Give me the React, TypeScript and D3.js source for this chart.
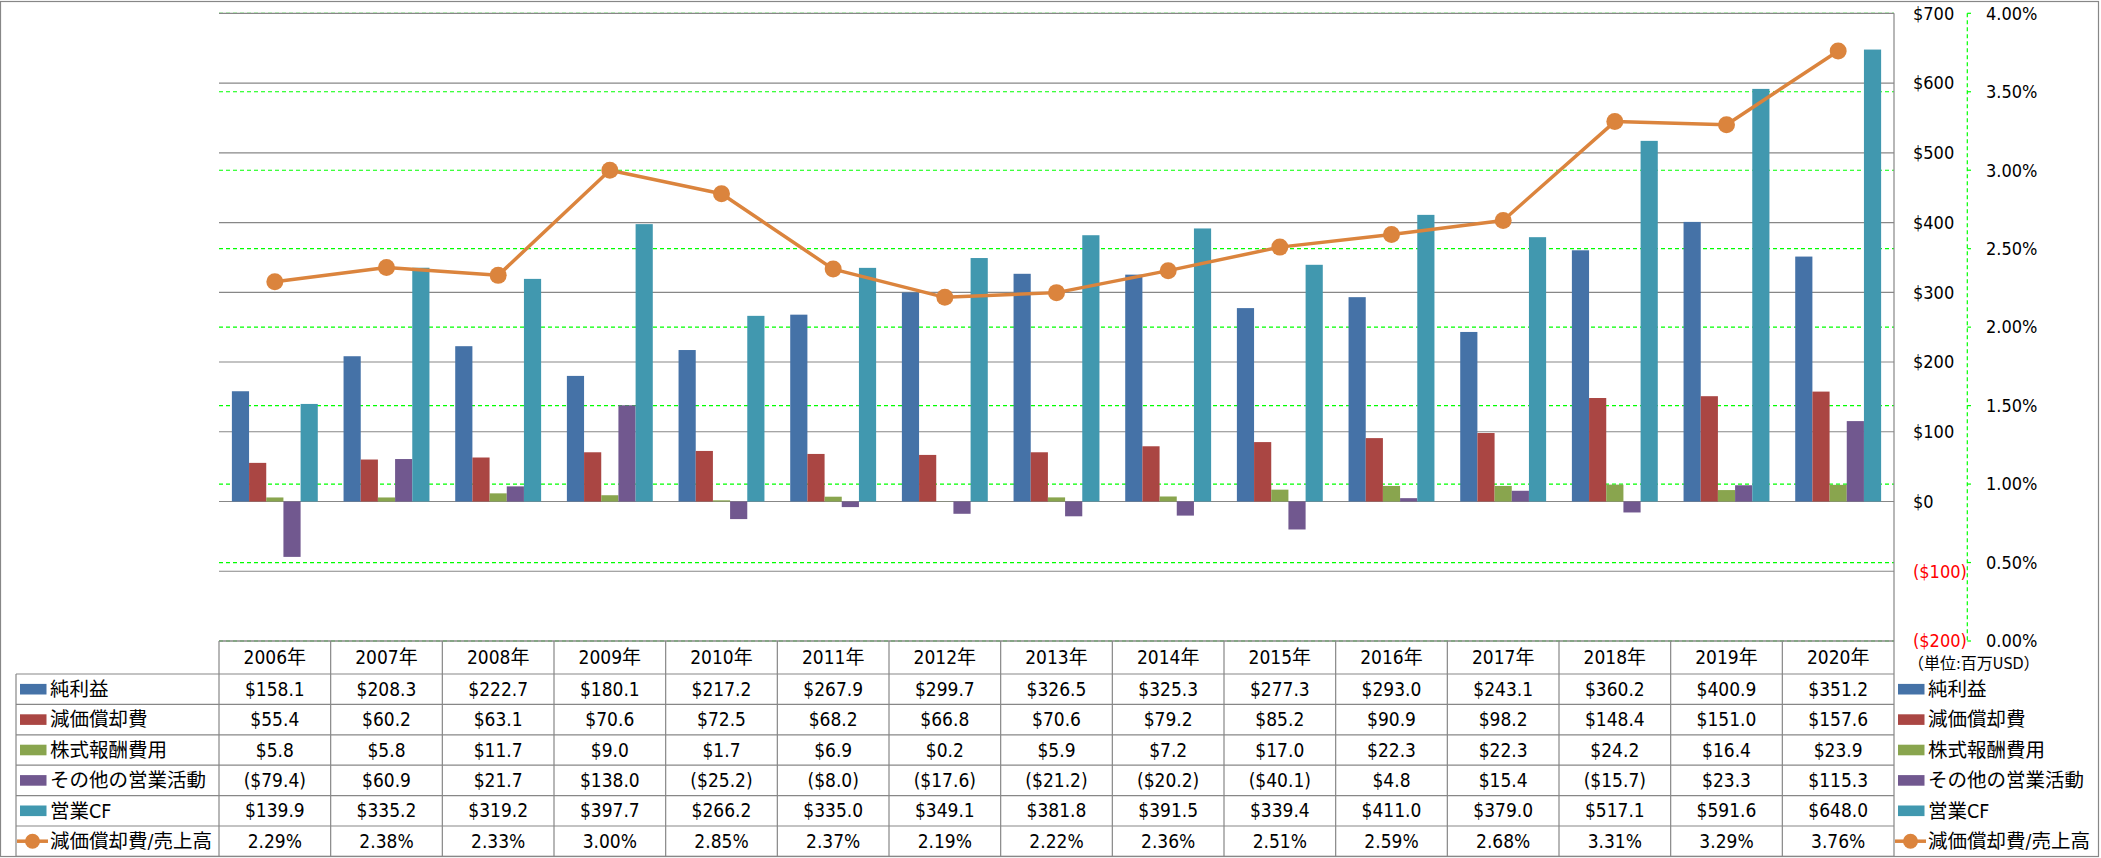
import React from "react";
import * as d3 from "d3";

const years = ["2006年","2007年","2008年","2009年","2010年","2011年","2012年","2013年","2014年","2015年","2016年","2017年","2018年","2019年","2020年"];
const netIncome = [158.1,208.3,222.7,180.1,217.2,267.9,299.7,326.5,325.3,277.3,293.0,243.1,360.2,400.9,351.2];
const depreciation = [55.4,60.2,63.1,70.6,72.5,68.2,66.8,70.6,79.2,85.2,90.9,98.2,148.4,151.0,157.6];
const stockComp = [5.8,5.8,11.7,9.0,1.7,6.9,0.2,5.9,7.2,17.0,22.3,22.3,24.2,16.4,23.9];
const otherOps = [-79.4,60.9,21.7,138.0,-25.2,-8.0,-17.6,-21.2,-20.2,-40.1,4.8,15.4,-15.7,23.3,115.3];
const operatingCF = [139.9,335.2,319.2,397.7,266.2,335.0,349.1,381.8,391.5,339.4,411.0,379.0,517.1,591.6,648.0];
const depRatio = [2.29,2.38,2.33,3.00,2.85,2.37,2.19,2.22,2.36,2.51,2.59,2.68,3.31,3.29,3.76];

const barSeriesNames = ["純利益","減価償却費","株式報酬費用","その他の営業活動","営業CF"];
const lineSeriesName = "減価償却費/売上高";
const barSeriesValues = [netIncome, depreciation, stockComp, otherOps, operatingCF];
const barColors = ["#4572A7","#AA4643","#89A54E","#71588F","#4198AF"];
const lineColor = "#DB843D";

const leftTicks = [700,600,500,400,300,200,100,0,-100,-200];
const pctTicks = [4.0,3.5,3.0,2.5,2.0,1.5,1.0,0.5,0.0];
const unitLabel = "（単位:百万USD）";

const W = 2101, H = 858;
const plotL = 219, plotR = 1894, plotT = 13.3, plotB = 641;
const headerTop = 641, headerBot = 674, rowH = 30.4;
const legendColL = 16;
const FONT = "'Liberation Sans Narrow','DejaVu Sans Condensed','Noto Sans CJK JP',sans-serif";
const GRID = "#878787";

const fmtMoney = (v: number) => (v < 0 ? `($${Math.abs(v).toFixed(1)})` : `$${v.toFixed(1)}`);
const fmtAxis = (v: number) => (v < 0 ? `($${Math.abs(v)})` : `$${v}`);

export default function App() {
  const y = d3.scaleLinear().domain([-200, 700]).range([plotB, plotT]);
  const y2 = d3.scaleLinear().domain([0, 4]).range([plotB, plotT]);
  const x0 = d3.scaleBand<string>().domain(years).range([plotL, plotR]).paddingInner(0).paddingOuter(0);
  const bw = x0.bandwidth();
  const barW = bw / 6.5;
  const x1 = d3.scaleBand<string>().domain(barSeriesNames).range([0.75 * barW, bw - 0.75 * barW]).padding(0);
  const cx = (i: number) => (x0(years[i]) as number) + bw / 2;

  const line = d3.line<number>().x((_, i) => cx(i)).y((d) => y2(d));

  const rowTop = (r: number) => headerBot + r * rowH;
  const tableBottom = rowTop(6);

  const allRows: string[][] = [
    ...barSeriesValues.map((arr) => arr.map(fmtMoney)),
    depRatio.map((d) => `${d.toFixed(2)}%`),
  ];
  const legendNames = [...barSeriesNames, lineSeriesName];

  const legendMarker = (i: number, xs: number, yc: number) => {
    if (i < 5) {
      return <rect x={xs} y={yc - 5.3} width={26.5} height={10.6} fill={barColors[i]} />;
    }
    return (
      <g>
        <line x1={xs - 3} x2={xs + 28} y1={yc} y2={yc} stroke={lineColor} strokeWidth={3.5} />
        <circle cx={xs + 12.5} cy={yc} r={7.5} fill={lineColor} />
      </g>
    );
  };

  return (
    <svg width={W} height={H} style={{ position: "absolute", left: 0, top: 0, display: "block", background: "#fff" }} fontFamily={FONT}>
      <rect x={0} y={0} width={W} height={H} fill="#fff" />
      {pctTicks.map((t) => (
        <line key={"g" + t} x1={plotL} x2={plotR} y1={y2(t)} y2={y2(t)} stroke="#00FF00" strokeWidth={1.2} strokeDasharray="4,3" />
      ))}
      {leftTicks.map((t) => (
        <line key={"p" + t} x1={plotL} x2={plotR} y1={y(t)} y2={y(t)} stroke={GRID} strokeWidth={1.2} />
      ))}
      {barSeriesValues.map((arr, s) => (
        <g key={"s" + s} fill={barColors[s]}>
          {arr.map((v, i) => (
            <rect
              key={i}
              x={(x0(years[i]) as number) + (x1(barSeriesNames[s]) as number)}
              y={Math.min(y(v), y(0))}
              width={x1.bandwidth()}
              height={Math.abs(y(v) - y(0))}
            />
          ))}
        </g>
      ))}
      <path d={line(depRatio) as string} fill="none" stroke={lineColor} strokeWidth={3.5} strokeLinejoin="round" />
      {depRatio.map((d, i) => (
        <circle key={"m" + i} cx={cx(i)} cy={y2(d)} r={8.5} fill={lineColor} />
      ))}
      <line x1={plotR} x2={plotR} y1={plotT} y2={tableBottom} stroke={GRID} strokeWidth={1.2} />
      {leftTicks.map((t) => (
        <text key={"lt" + t} x={1913} y={y(t)} dy="0.35em" fontSize={18} fill={t < 0 ? "#FF0000" : "#000"}>
          {fmtAxis(t)}
        </text>
      ))}
      <line x1={1967.3} x2={1967.3} y1={plotT} y2={plotB} stroke="#00FF00" strokeWidth={1.2} strokeDasharray="4,3" />
      {pctTicks.map((t) => (
        <g key={"pt" + t}>
          <line x1={1967.3} x2={1971} y1={y2(t)} y2={y2(t)} stroke="#00FF00" strokeWidth={1.2} />
          <text x={1986} y={y2(t)} dy="0.35em" fontSize={18} fill="#000">
            {`${t.toFixed(2)}%`}
          </text>
        </g>
      ))}
      <g stroke={GRID} strokeWidth={1.2}>
        <line x1={plotL} x2={plotR} y1={headerTop} y2={headerTop} />
        {d3.range(7).map((r) => (
          <line key={"h" + r} x1={legendColL} x2={plotR} y1={rowTop(r)} y2={rowTop(r)} />
        ))}
        <line x1={legendColL} x2={legendColL} y1={headerBot} y2={tableBottom} />
        {years.map((yr) => (
          <line key={"v" + yr} x1={x0(yr) as number} x2={x0(yr) as number} y1={headerTop} y2={tableBottom} />
        ))}
      </g>
      {years.map((yr) => (
        <text key={"hd" + yr} x={(x0(yr) as number) + bw / 2} y={(headerTop + headerBot) / 2} dy="0.35em" textAnchor="middle" fontSize={19}>
          {yr}
        </text>
      ))}
      {allRows.map((row, r) =>
        row.map((txt, i) => (
          <text key={`c${r}-${i}`} x={cx(i)} y={rowTop(r) + rowH / 2} dy="0.35em" textAnchor="middle" fontSize={19}>
            {txt}
          </text>
        ))
      )}
      {legendNames.map((nm, r) => (
        <g key={"ll" + r}>
          {legendMarker(r, 20, rowTop(r) + rowH / 2)}
          <text x={50} y={rowTop(r) + rowH / 2} dy="0.35em" fontSize={19.5}>{nm}</text>
        </g>
      ))}
      <text x={1908} y={663} dy="0.35em" fontSize={16}>{unitLabel}</text>
      {legendNames.map((nm, r) => (
        <g key={"rl" + r}>
          {legendMarker(r, 1898, rowTop(r) + rowH / 2)}
          <text x={1928} y={rowTop(r) + rowH / 2} dy="0.35em" fontSize={19.5}>{nm}</text>
        </g>
      ))}
      <rect x={0.5} y={1.5} width={2098} height={855} fill="none" stroke={GRID} strokeWidth={1.2} />
    </svg>
  );
}
